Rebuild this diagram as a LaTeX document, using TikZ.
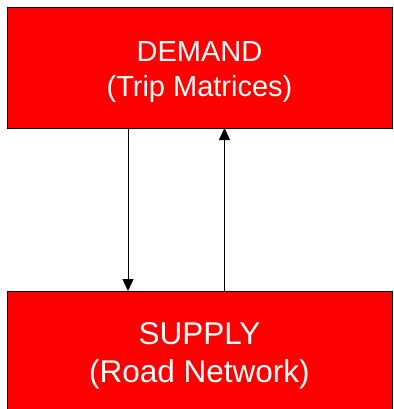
\documentclass[tikz,border=0pt]{standalone}
\usepackage{fontspec}
\setmainfont{Liberation Sans}
\usetikzlibrary{arrows.meta}
\tikzset{
  redbox/.style={draw=black, line width=1pt, fill={rgb,255:red,255;green,0;blue,0},
    minimum width=385pt, minimum height=120pt, inner sep=0pt, outer sep=0pt},
  boxtext/.style={text=white, align=center, inner sep=0pt},
  arr/.style={draw=black, line width=1pt, -{Triangle[width=11pt,length=12pt]}}
}
\begin{document}
\begin{tikzpicture}[x=1pt,y=-1pt]
\useasboundingbox (0,0) rectangle (393,409);
\node[redbox] (demand) at (199.5,68) {};
\node[redbox] (supply) at (199.5,351) {};
\node[boxtext, font=\fontsize{29}{35}\selectfont] (demandtext) at ([yshift=-3.8pt]demand.center) {DEMAND\\(Trip Matrices)};
\node[boxtext, font=\fontsize{31.5}{38}\selectfont] (supplytext) at ([yshift=-5pt]supply.center) {SUPPLY\\(Road Network)};
\coordinate (dx) at (128,0);
\coordinate (ux) at (224.5,0);
\draw[arr] (demand.south -| dx) -- (supply.north -| dx);
\draw[arr] (supply.north -| ux) -- (demand.south -| ux);
\end{tikzpicture}
\end{document}
